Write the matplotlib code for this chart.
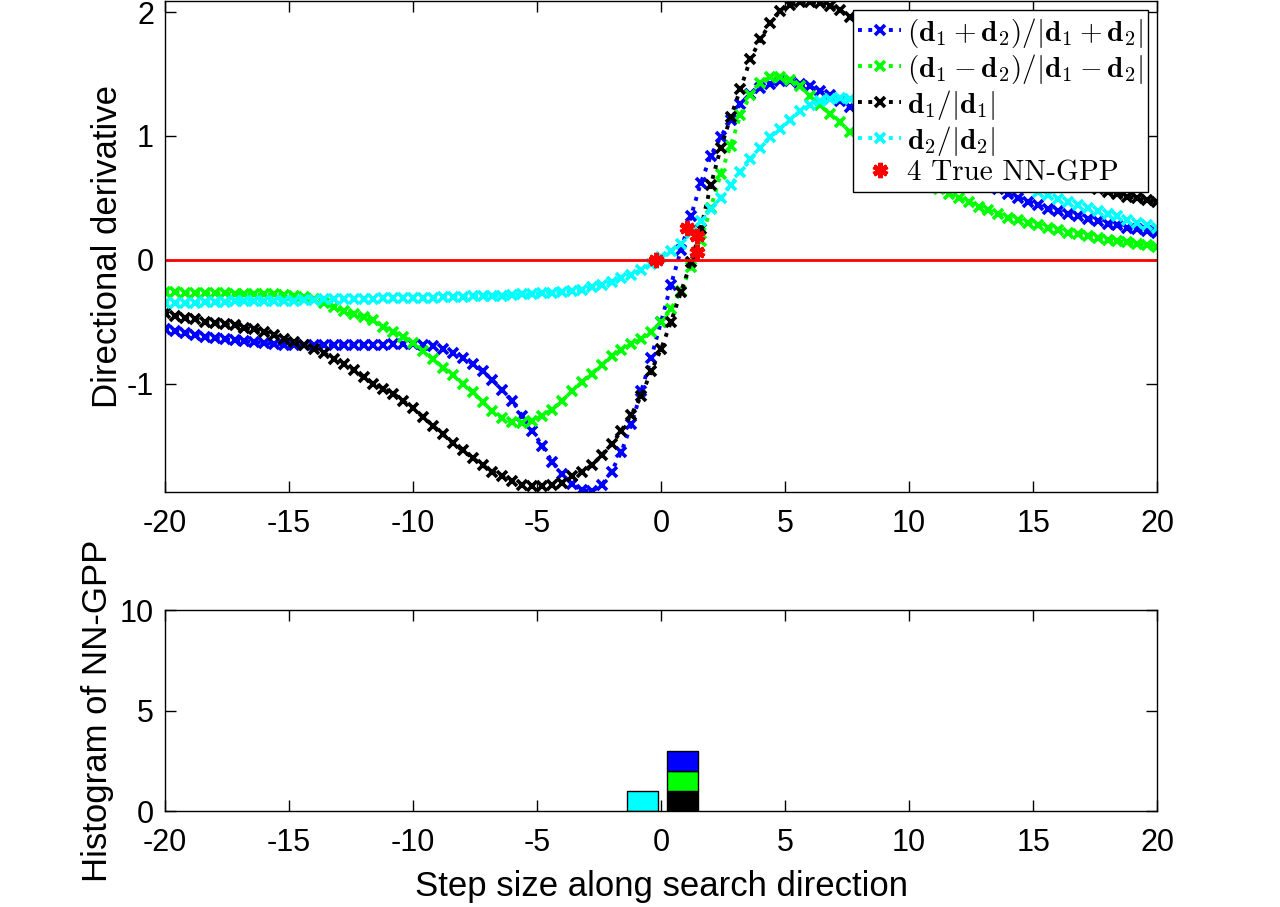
import numpy as np
import matplotlib
matplotlib.use("Agg")
import matplotlib.pyplot as plt

plt.rcParams["font.family"] = ["Liberation Sans", "DejaVu Sans"]
plt.rcParams["mathtext.fontset"] = "cm"
plt.rcParams["axes.unicode_minus"] = False

# step sizes along the search direction
steps = np.linspace(-20, 20, 101)

# directional derivative along (d1+d2)/|d1+d2|
deriv_sum = [
    -0.56, -0.575, -0.59, -0.605, -0.62, -0.63, -0.64, -0.65, -0.655, -0.665,
    -0.67, -0.68, -0.685, -0.69, -0.69, -0.69, -0.69, -0.69, -0.69, -0.69,
    -0.69, -0.685, -0.685, -0.68, -0.68, -0.68, -0.69, -0.70, -0.72, -0.75,
    -0.79, -0.84, -0.90, -0.97, -1.05, -1.14, -1.26, -1.38, -1.50, -1.63,
    -1.73, -1.81, -1.86, -1.87, -1.82, -1.71, -1.55, -1.33, -1.06, -0.79,
    -0.50, -0.20, 0.08, 0.35, 0.62, 0.84, 0.99, 1.13, 1.26, 1.34,
    1.39, 1.42, 1.44, 1.44, 1.42, 1.40, 1.36, 1.33, 1.28, 1.23,
    1.18, 1.13, 1.08, 1.03, 0.98, 0.94, 0.90, 0.85, 0.81, 0.77,
    0.73, 0.69, 0.65, 0.61, 0.57, 0.53, 0.50, 0.47, 0.44, 0.41,
    0.39, 0.37, 0.35, 0.33, 0.31, 0.29, 0.28, 0.26, 0.25, 0.23,
    0.22,
]

# directional derivative along (d1-d2)/|d1-d2|
deriv_diff = [
    -0.26, -0.26, -0.265, -0.265, -0.27, -0.27, -0.27, -0.275, -0.275, -0.28,
    -0.28, -0.28, -0.285, -0.29, -0.30, -0.32, -0.35, -0.38, -0.41, -0.44,
    -0.465, -0.49, -0.54, -0.58, -0.62, -0.67, -0.74, -0.80, -0.87, -0.93,
    -1.00, -1.07, -1.15, -1.22, -1.28, -1.31, -1.32, -1.30, -1.26, -1.21,
    -1.14, -1.06, -0.99, -0.92, -0.85, -0.78, -0.73, -0.68, -0.64, -0.58,
    -0.50, -0.40, -0.25, -0.06, 0.15, 0.42, 0.69, 0.92, 1.17, 1.33,
    1.43, 1.48, 1.48, 1.45, 1.40, 1.32, 1.25, 1.18, 1.11, 1.03,
    0.97, 0.91, 0.85, 0.80, 0.75, 0.70, 0.66, 0.61, 0.57, 0.53,
    0.50, 0.47, 0.43, 0.40, 0.37, 0.34, 0.32, 0.30, 0.28, 0.26,
    0.24, 0.22, 0.21, 0.19, 0.18, 0.16, 0.15, 0.14, 0.13, 0.12,
    0.105,
]

# directional derivative along d1/|d1|
deriv_d1 = [
    -0.43, -0.45, -0.47, -0.48, -0.50, -0.51, -0.52, -0.53, -0.55, -0.56,
    -0.58, -0.61, -0.64, -0.66, -0.69, -0.72, -0.75, -0.80, -0.84, -0.89,
    -0.95, -1.00, -1.04, -1.08, -1.14, -1.20, -1.27, -1.34, -1.41, -1.48,
    -1.54, -1.60, -1.66, -1.71, -1.75, -1.79, -1.82, -1.83, -1.83, -1.82,
    -1.80, -1.75, -1.71, -1.66, -1.58, -1.49, -1.38, -1.25, -1.10, -0.90,
    -0.72, -0.50, -0.26, -0.02, 0.25, 0.60, 0.90, 1.15, 1.38, 1.62,
    1.78, 1.91, 2.01, 2.06, 2.08, 2.08, 2.07, 2.05, 2.02, 1.96,
    1.90, 1.83, 1.75, 1.67, 1.59, 1.51, 1.43, 1.35, 1.27, 1.20,
    1.13, 1.06, 1.00, 0.94, 0.89, 0.84, 0.80, 0.76, 0.72, 0.69,
    0.66, 0.63, 0.61, 0.59, 0.57, 0.55, 0.53, 0.51, 0.50, 0.48,
    0.47,
]

# directional derivative along d2/|d2|
deriv_d2 = [
    -0.35, -0.35, -0.35, -0.345, -0.34, -0.34, -0.34, -0.335, -0.335, -0.33,
    -0.33, -0.33, -0.33, -0.33, -0.325, -0.325, -0.32, -0.32, -0.32, -0.32,
    -0.315, -0.315, -0.31, -0.31, -0.31, -0.31, -0.305, -0.305, -0.30, -0.30,
    -0.30, -0.295, -0.29, -0.29, -0.29, -0.285, -0.28, -0.28, -0.27, -0.265,
    -0.26, -0.25, -0.24, -0.22, -0.20, -0.18, -0.15, -0.12, -0.08, -0.03,
    0.02, 0.07, 0.13, 0.22, 0.31, 0.41, 0.50, 0.60, 0.71, 0.81,
    0.90, 0.99, 1.06, 1.13, 1.20, 1.25, 1.28, 1.30, 1.31, 1.30,
    1.28, 1.25, 1.22, 1.18, 1.14, 1.10, 1.06, 1.01, 0.97, 0.92,
    0.88, 0.84, 0.79, 0.75, 0.71, 0.67, 0.63, 0.59, 0.55, 0.52,
    0.49, 0.47, 0.44, 0.42, 0.39, 0.37, 0.35, 0.32, 0.30, 0.28,
    0.26,
]

# the 4 true NN-GPP (step size, directional derivative)
gpp_steps = [-0.2, 1.05, 1.45, 1.45]
gpp_derivs = [0.0, 0.26, 0.19, 0.06]

# NN-GPP step sizes found along each direction (for the histogram)
gpp_sum = [1.05]
gpp_diff = [1.45]
gpp_d1 = [1.45]
gpp_d2 = [-0.2]

hist_edges = [-1.55, 0.05, 1.65]

labels = [
    r"$(\mathbf{d}_1+\mathbf{d}_2)/|\mathbf{d}_1+\mathbf{d}_2|$",
    r"$(\mathbf{d}_1-\mathbf{d}_2)/|\mathbf{d}_1-\mathbf{d}_2|$",
    r"$\mathbf{d}_1/|\mathbf{d}_1|$",
    r"$\mathbf{d}_2/|\mathbf{d}_2|$",
]
colors = ["#0000ff", "#00ff00", "#000000", "#00ffff"]

fig = plt.figure(figsize=(12.8, 9.07), dpi=100)
ax1 = fig.add_axes([0.129, 0.4576, 0.775, 0.5413])
ax2 = fig.add_axes([0.129, 0.1058, 0.775, 0.2216])

# Top panel: directional derivatives
for vals, lab, col in zip([deriv_sum, deriv_diff, deriv_d1, deriv_d2], labels, colors):
    ax1.plot(steps, vals, linestyle=":", color=col, linewidth=2.8,
             marker="x", markersize=6.5, markeredgewidth=2.6, label=lab)
ax1.axhline(0, color="red", linewidth=2)
ax1.plot(gpp_steps, gpp_derivs, linestyle="none", marker=(6, 2, 0), color="red",
         markersize=11, markeredgewidth=3.5, label="4 True NN-GPP")

ax1.set_xlim(-20, 20)
ax1.set_ylim(-1.875, 2.09)
ax1.set_xticks(np.arange(-20, 21, 5))
ax1.set_yticks([-1, 0, 1, 2])
ax1.set_ylabel("Directional derivative", fontsize=25, labelpad=2)

leg = ax1.legend(loc="upper right", prop={"family": "cmr10", "size": 21},
                 handlelength=1.45, handletextpad=0.2, labelspacing=0.07,
                 borderpad=0.2, borderaxespad=0.3, fancybox=False,
                 framealpha=1, edgecolor="black")
leg.get_frame().set_linewidth(1.0)

# Bottom panel: histogram of NN-GPP locations (stacked)
centers = 0.5 * (np.array(hist_edges[:-1]) + np.array(hist_edges[1:]))
width = 0.78 * (hist_edges[1] - hist_edges[0])
bottom = np.zeros(len(centers))
for locs, col in zip([gpp_d1, gpp_diff, gpp_sum, gpp_d2], ["#000000", "#00ff00", "#0000ff", "#00ffff"]):
    counts, _ = np.histogram(locs, bins=hist_edges)
    mask = counts > 0
    ax2.bar(centers[mask], counts[mask], width=width, bottom=bottom[mask],
            color=col, edgecolor="black", linewidth=1)
    bottom = bottom + counts

ax2.set_xlim(-20, 20)
ax2.set_ylim(0, 10)
ax2.set_xticks(np.arange(-20, 21, 5))
ax2.set_yticks([0, 5, 10])
ax2.set_xlabel("Step size along search direction", fontsize=25, labelpad=9)
ax2.set_ylabel("Histogram of NN-GPP", fontsize=25, labelpad=4)

for ax in (ax1, ax2):
    ax.tick_params(direction="in", length=8, width=1, top=True, right=True,
                   labelsize=22)
    ax.tick_params(axis="x", pad=12)
    ax.tick_params(axis="y", pad=8)
    for sp in ax.spines.values():
        sp.set_linewidth(1)

fig.savefig("out.png", dpi=100)
